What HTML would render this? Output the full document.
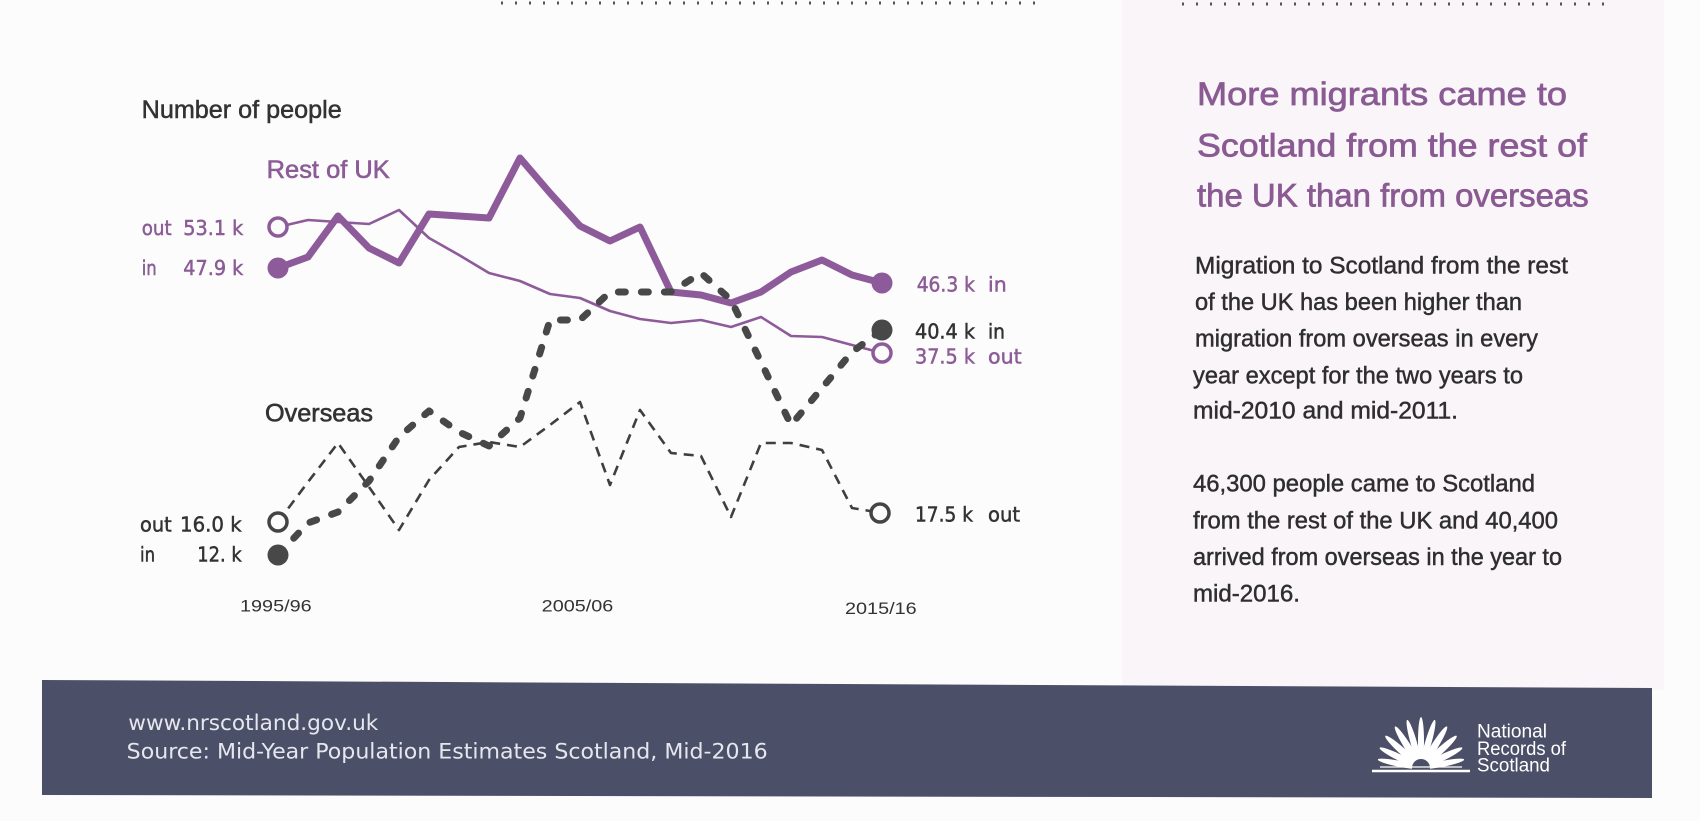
<!DOCTYPE html>
<html>
<head>
<meta charset="utf-8">
<style>
html,body{margin:0;padding:0;background:#fdfcfd;}
svg{display:block;}
text{font-family:"Liberation Sans","DejaVu Sans",sans-serif;}
.num{font-family:"DejaVu Sans","Liberation Sans",sans-serif;font-size:20px;}
</style>
</head>
<body>
<svg width="1700" height="821" viewBox="0 0 1700 821" xmlns="http://www.w3.org/2000/svg">
  <!-- backgrounds -->
  <rect x="0" y="0" width="1700" height="821" fill="#fdfcfd"/>
  <rect x="1122" y="0" width="542" height="690" fill="#f9f5f9"/>

  <!-- top dotted rules -->
  <line x1="501" y1="3" x2="1035" y2="3" stroke="#555" stroke-width="3" stroke-dasharray="2 12"/>
  <line x1="1182" y1="4" x2="1607" y2="4" stroke="#555" stroke-width="3" stroke-dasharray="2 12"/>

  <!-- chart title -->
  <text x="141.7" y="118" font-size="25" fill="#333" stroke="#333" stroke-width="0.5" textLength="200" lengthAdjust="spacingAndGlyphs">Number of people</text>
  <text x="266.7" y="178" font-size="25" fill="#8c5c97" stroke="#8c5c97" stroke-width="0.6" textLength="123" lengthAdjust="spacingAndGlyphs">Rest of UK</text>
  <text x="265" y="421.7" font-size="25" fill="#333" stroke="#333" stroke-width="0.6" textLength="108" lengthAdjust="spacingAndGlyphs">Overseas</text>

  <!-- left labels -->
  <g stroke-width="0.5">
  <text class="num" x="141.7" y="235" fill="#8c5c97" stroke="#8c5c97" textLength="30" lengthAdjust="spacingAndGlyphs">out</text>
  <text class="num" x="183.3" y="235" fill="#8c5c97" stroke="#8c5c97" textLength="60" lengthAdjust="spacingAndGlyphs">53.1 k</text>
  <text class="num" x="141.7" y="275" fill="#8c5c97" stroke="#8c5c97" textLength="15" lengthAdjust="spacingAndGlyphs">in</text>
  <text class="num" x="183.3" y="275" fill="#8c5c97" stroke="#8c5c97" textLength="60" lengthAdjust="spacingAndGlyphs">47.9 k</text>

  <text class="num" x="140" y="531.7" fill="#333" stroke="#333" textLength="31.7" lengthAdjust="spacingAndGlyphs">out</text>
  <text class="num" x="180" y="531.7" fill="#333" stroke="#333" textLength="61.7" lengthAdjust="spacingAndGlyphs">16.0 k</text>
  <text class="num" x="140" y="561.7" fill="#333" stroke="#333" textLength="15" lengthAdjust="spacingAndGlyphs">in</text>
  <text class="num" x="197.3" y="561.7" fill="#333" stroke="#333" textLength="44.4" lengthAdjust="spacingAndGlyphs">12. k</text>

  <!-- right labels -->
  <text class="num" x="916.7" y="291.7" fill="#8c5c97" stroke="#8c5c97" textLength="58.3" lengthAdjust="spacingAndGlyphs">46.3 k</text>
  <text class="num" x="988" y="291.7" fill="#8c5c97" stroke="#8c5c97" textLength="18.7" lengthAdjust="spacingAndGlyphs">in</text>
  <text class="num" x="915" y="338.3" fill="#333" stroke="#333" textLength="60" lengthAdjust="spacingAndGlyphs">40.4 k</text>
  <text class="num" x="988" y="338.3" fill="#333" stroke="#333" textLength="17" lengthAdjust="spacingAndGlyphs">in</text>
  <text class="num" x="915" y="363.3" fill="#8c5c97" stroke="#8c5c97" textLength="60" lengthAdjust="spacingAndGlyphs">37.5 k</text>
  <text class="num" x="988" y="363.3" fill="#8c5c97" stroke="#8c5c97" textLength="33.7" lengthAdjust="spacingAndGlyphs">out</text>
  <text class="num" x="915" y="521.7" fill="#333" stroke="#333" textLength="58" lengthAdjust="spacingAndGlyphs">17.5 k</text>
  <text class="num" x="988" y="521.7" fill="#333" stroke="#333" textLength="32" lengthAdjust="spacingAndGlyphs">out</text>
  </g>

  <!-- x axis labels -->
  <text x="240" y="611.7" font-size="17" fill="#333" textLength="71.7" lengthAdjust="spacingAndGlyphs">1995/96</text>
  <text x="541.7" y="611.7" font-size="17" fill="#333" textLength="71.6" lengthAdjust="spacingAndGlyphs">2005/06</text>
  <text x="845" y="614" font-size="17" fill="#333" textLength="71.7" lengthAdjust="spacingAndGlyphs">2015/16</text>

  <!-- Overseas out (thin dashed) -->
  <polyline fill="none" stroke="#3f3f3f" stroke-width="2.6" stroke-dasharray="10 7" stroke-linejoin="round"
    points="278,522 308,482 338,443 369,487 399,530 429,480 459,447 489,442 520,447 550,425 580,402 610,485 640,410 671,453 701,456 731,517 761,443 791,443 822,450 852,508 882,513"/>

  <!-- Rest of UK out (thin) -->
  <polyline fill="none" stroke="#8e5b9a" stroke-width="2.6" stroke-linejoin="round"
    points="278,227 308,220 338,222 369,224 399,210 429,238 459,255 489,273 520,281 550,294 580,298 610,311 640,319 671,323 701,320 731,327 761,317 791,336 822,337 852,345 882,353"/>

  <!-- Rest of UK in (thick) -->
  <polyline fill="none" stroke="#8e5b9a" stroke-width="7" stroke-linejoin="round" stroke-linecap="round"
    points="278,268 308,257 338,216 369,248 399,263 429,214 459,216 489,218 520,158 550,193 580,226 610,241 640,227 671,292 701,295 731,303 761,292 791,272 822,260 852,275 882,283"/>

  <!-- Overseas in (thick dashed) -->
  <polyline fill="none" stroke="#484848" stroke-width="7" stroke-dasharray="7 16" stroke-linecap="round" stroke-linejoin="round"
    points="278,555 308,523 338,512 369,481 399,437 429,411 459,432 489,446 520,418 550,320 580,320 610,292 640,292 671,292 701,273 731,300 761,362 791,425 822,388 852,352 882,330"/>

  <!-- end markers -->
  <circle cx="278" cy="227" r="9" fill="#fdfcfd" stroke="#8e5b9a" stroke-width="3.5"/>
  <circle cx="278" cy="268" r="10.5" fill="#8e5b9a"/>
  <circle cx="882" cy="283" r="10.5" fill="#8e5b9a"/>
  <circle cx="882" cy="353" r="9" fill="#fdfcfd" stroke="#8e5b9a" stroke-width="3.5"/>
  <circle cx="278" cy="522" r="9" fill="#fdfcfd" stroke="#444" stroke-width="3.5"/>
  <circle cx="278" cy="555" r="10.5" fill="#484848"/>
  <circle cx="882" cy="330" r="10.5" fill="#484848"/>
  <circle cx="880" cy="513" r="9" fill="#fdfcfd" stroke="#444" stroke-width="3.5"/>

  <!-- right panel title -->
  <g font-size="32" fill="#8a5a93" stroke="#8a5a93" stroke-width="0.7">
    <text x="1197" y="105" textLength="370" lengthAdjust="spacingAndGlyphs">More migrants came to</text>
    <text x="1197" y="156.7" textLength="390" lengthAdjust="spacingAndGlyphs">Scotland from the rest of</text>
    <text x="1197" y="206.7" textLength="391.7" lengthAdjust="spacingAndGlyphs">the UK than from overseas</text>
  </g>

  <!-- right panel body -->
  <g font-size="24" fill="#2e2e2e" stroke="#2e2e2e" stroke-width="0.45">
    <text x="1195" y="273.3" textLength="373" lengthAdjust="spacingAndGlyphs">Migration to Scotland from the rest</text>
    <text x="1195" y="310" textLength="327" lengthAdjust="spacingAndGlyphs">of the UK has been higher than</text>
    <text x="1195" y="346.7" textLength="343" lengthAdjust="spacingAndGlyphs">migration from overseas in every</text>
    <text x="1193" y="383.3" textLength="330" lengthAdjust="spacingAndGlyphs">year except for the two years to</text>
    <text x="1193" y="418.3" textLength="265" lengthAdjust="spacingAndGlyphs">mid-2010 and mid-2011.</text>
    <text x="1193" y="491.7" textLength="342" lengthAdjust="spacingAndGlyphs">46,300 people came to Scotland</text>
    <text x="1193" y="528.3" textLength="365" lengthAdjust="spacingAndGlyphs">from the rest of the UK and 40,400</text>
    <text x="1193" y="565" textLength="369" lengthAdjust="spacingAndGlyphs">arrived from overseas in the year to</text>
    <text x="1193" y="601.7" textLength="107" lengthAdjust="spacingAndGlyphs">mid-2016.</text>
  </g>

  <!-- footer band -->
  <polygon points="42,680 1652,688 1652,798 42,795" fill="#4b5068"/>
  <text x="128.3" y="730" font-size="21" fill="#e6e7ee" style="font-family:'DejaVu Sans','Liberation Sans',sans-serif" textLength="250" lengthAdjust="spacingAndGlyphs">www.nrscotland.gov.uk</text>
  <text x="126.7" y="758.3" font-size="21" fill="#e6e7ee" style="font-family:'DejaVu Sans','Liberation Sans',sans-serif" textLength="641" lengthAdjust="spacingAndGlyphs">Source: Mid-Year Population Estimates Scotland, Mid-2016</text>

  <!-- logo fan -->
  <g fill="#ffffff">
    <ellipse cx="1421" cy="741" rx="3" ry="24" transform="rotate(0 1421 768)"/>
    <ellipse cx="1421" cy="742" rx="3.2" ry="24" transform="rotate(-16 1421 768)"/>
    <ellipse cx="1421" cy="742" rx="3.2" ry="24" transform="rotate(16 1421 768)"/>
    <ellipse cx="1421" cy="743" rx="3.4" ry="24" transform="rotate(-32 1421 768)"/>
    <ellipse cx="1421" cy="743" rx="3.4" ry="24" transform="rotate(32 1421 768)"/>
    <ellipse cx="1421" cy="744" rx="3.4" ry="24" transform="rotate(-48 1421 768)"/>
    <ellipse cx="1421" cy="744" rx="3.4" ry="24" transform="rotate(48 1421 768)"/>
    <ellipse cx="1421" cy="745" rx="3.2" ry="23" transform="rotate(-64 1421 768)"/>
    <ellipse cx="1421" cy="745" rx="3.2" ry="23" transform="rotate(64 1421 768)"/>
    <ellipse cx="1421" cy="746" rx="3" ry="22" transform="rotate(-79 1421 768)"/>
    <ellipse cx="1421" cy="746" rx="3" ry="22" transform="rotate(79 1421 768)"/>
  </g>
  <circle cx="1421" cy="768" r="9" fill="#4b5068"/>
  <line x1="1372" y1="771" x2="1470" y2="771" stroke="#fff" stroke-width="2.5"/>
  <line x1="1380" y1="767" x2="1462" y2="767" stroke="#fff" stroke-width="1.3"/>
  <g font-size="19" fill="#ffffff">
    <text x="1477" y="737.3" textLength="70" lengthAdjust="spacingAndGlyphs">National</text>
    <text x="1477" y="755" textLength="89" lengthAdjust="spacingAndGlyphs">Records of</text>
    <text x="1477" y="771.7" textLength="73" lengthAdjust="spacingAndGlyphs">Scotland</text>
  </g>
</svg>
</body>
</html>
